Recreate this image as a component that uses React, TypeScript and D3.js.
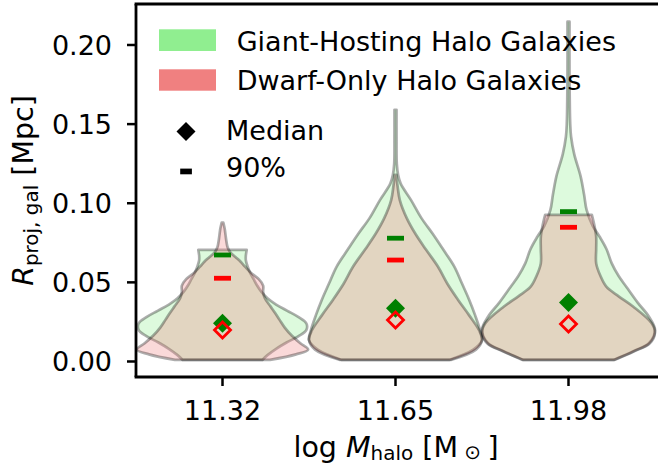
import React from 'react';
import * as d3 from 'd3';

// ---------- data ----------
const categories = ['11.32', '11.65', '11.98'];
const positions = [0, 1, 2];
const yTicks = [0, 0.05, 0.1, 0.15, 0.2];

// violin profiles: [R_proj (Mpc), relative half-width (0..1)]
const giantV1 = [
  [0.0705, 0.28], [0.067, 0.27], [0.064, 0.27], [0.06, 0.29], [0.056, 0.32], [0.052, 0.36],
  [0.048, 0.4], [0.044, 0.45], [0.04, 0.52], [0.036, 0.62], [0.032, 0.75], [0.028, 0.88],
  [0.024, 0.97], [0.02, 0.97], [0.016, 0.88], [0.012, 0.74], [0.008, 0.62], [0.004, 0.52], [0.001, 0.46],
];
const giantV2 = [
  [0.159, 0.012], [0.14, 0.012], [0.125, 0.015], [0.118, 0.03], [0.1124, 0.06], [0.102, 0.18],
  [0.0906, 0.3], [0.0807, 0.43], [0.0709, 0.55], [0.06, 0.68], [0.0491, 0.77], [0.0392, 0.85],
  [0.0293, 0.92], [0.0194, 0.98], [0.0135, 1.0], [0.0075, 0.9], [0.001, 0.62],
];
const giantV3 = [
  [0.2147, 0.012], [0.18, 0.012], [0.15, 0.02], [0.142, 0.03], [0.131, 0.066], [0.117, 0.14],
  [0.1055, 0.18], [0.0956, 0.21], [0.0857, 0.28], [0.0788, 0.36], [0.0709, 0.44], [0.062, 0.5],
  [0.054, 0.58], [0.0471, 0.67], [0.0372, 0.8], [0.0283, 0.93], [0.0199, 1.0], [0.0115, 0.93],
  [0.0065, 0.75], [0.001, 0.52],
];
const dwarfV1 = [
  [0.0877, 0.01], [0.084, 0.025], [0.08, 0.035], [0.076, 0.045], [0.072, 0.06], [0.069, 0.09],
  [0.066, 0.15], [0.063, 0.21], [0.06, 0.26], [0.056, 0.33], [0.052, 0.42], [0.048, 0.47],
  [0.044, 0.47], [0.04, 0.49], [0.0352, 0.55], [0.0313, 0.6], [0.0263, 0.66], [0.0214, 0.72],
  [0.0164, 0.8], [0.0115, 0.9], [0.0075, 0.99], [0.0045, 0.85], [0.001, 0.55],
];
const dwarfV2 = [
  [0.118, 0.01], [0.1104, 0.025], [0.102, 0.05], [0.0906, 0.13], [0.0807, 0.23], [0.0709, 0.35],
  [0.06, 0.49], [0.0491, 0.6], [0.0392, 0.72], [0.0293, 0.85], [0.0194, 0.97], [0.0135, 1.0],
  [0.0075, 0.93], [0.001, 0.64],
];
const dwarfV3 = [
  [0.0926, 0.27], [0.0857, 0.3], [0.0788, 0.32], [0.0709, 0.32], [0.062, 0.32], [0.054, 0.37],
  [0.0471, 0.44], [0.0412, 0.58], [0.0346, 0.75], [0.0243, 0.96], [0.0184, 1.0], [0.0115, 0.94],
  [0.0065, 0.76], [0.001, 0.53],
];
const giantProfiles = [giantV1, giantV2, giantV3];
const dwarfProfiles = [dwarfV1, dwarfV2, dwarfV3];

const giantMedian = [0.0241, 0.0336, 0.0372];
const dwarfMedian = [0.0199, 0.0262, 0.0237];
const giantP90 = [0.0673, 0.0779, 0.0947];
const dwarfP90 = [0.0526, 0.0641, 0.0848];

const legendLabels = ['Giant-Hosting Halo Galaxies', 'Dwarf-Only Halo Galaxies'];
const markerLabels = ['Median', '90%'];

// ---------- styles ----------
const W = 658;
const H = 467;
const FONT = 'DejaVu Sans, sans-serif';
const FS = 27;
const LFS = 28.5;

const diamond = (cx: number, cy: number, r: number) =>
  `M${cx},${cy - r}L${cx + r},${cy}L${cx},${cy + r}L${cx - r},${cy}Z`;

export default function App() {
  const left = 136, top = 4, bottom = 377;
  const x = d3.scaleLinear().domain([-0.5, 2.5]).range([left, 655]);
  const y = d3.scaleLinear().domain([-0.0098, 0.2259]).range([bottom, top]);
  const hw = (x(1) - x(0)) / 2;

  const areaFor = (i: number) =>
    d3
      .area<number[]>()
      .y((d) => y(d[0]))
      .x0((d) => x(positions[i]) - d[1] * hw)
      .x1((d) => x(positions[i]) + d[1] * hw)
      .curve(d3.curveCatmullRom);

  const edge = { stroke: '#000', strokeOpacity: 0.32, strokeWidth: 2.7, strokeLinejoin: 'round' as const };

  return (
    <svg
      width={W}
      height={H}
      style={{ position: 'absolute', left: 0, top: 0, display: 'block', background: '#fff' }}
      fontFamily={FONT}
    >
      <rect x={0} y={0} width={W} height={H} fill="#fff" />
      {/* violins: giant (green) first, dwarf (red) on top */}
      {giantProfiles.map((p, i) => (
        <path key={'g' + i} d={areaFor(i)(p) || ''} fill="#90EE90" fillOpacity={0.3} {...edge} />
      ))}
      {dwarfProfiles.map((p, i) => (
        <path key={'d' + i} d={areaFor(i)(p) || ''} fill="#F08080" fillOpacity={0.3} {...edge} />
      ))}

      {/* 90% markers */}
      {giantP90.map((v, i) => (
        <rect key={'g90' + i} x={x(positions[i]) - 8.5} y={y(v) - 2.4} width={17} height={4.8} fill="#008000" />
      ))}
      {dwarfP90.map((v, i) => (
        <rect key={'d90' + i} x={x(positions[i]) - 8.5} y={y(v) - 2.4} width={17} height={4.8} fill="#ff0000" />
      ))}
      {/* medians */}
      {giantMedian.map((v, i) => (
        <path key={'gm' + i} d={diamond(x(positions[i]), y(v), 9.5)} fill="#008000" />
      ))}
      {dwarfMedian.map((v, i) => (
        <path key={'dm' + i} d={diamond(x(positions[i]), y(v), 8)} fill="none" stroke="#ff0000" strokeWidth={2.8} />
      ))}

      {/* frame */}
      <line x1={left} x2={left} y1={top} y2={bottom} stroke="#000" strokeWidth={2.8} />
      <line x1={left - 1.4} x2={W + 5} y1={top} y2={top} stroke="#000" strokeWidth={2.8} />
      <line x1={left - 1.4} x2={W + 5} y1={bottom} y2={bottom} stroke="#000" strokeWidth={2.8} />

      {/* y ticks */}
      {yTicks.map((t) => (
        <g key={'yt' + t}>
          <line x1={left - 9} x2={left} y1={y(t)} y2={y(t)} stroke="#000" strokeWidth={2.5} />
          <text x={112} y={y(t)} dy="0.36em" textAnchor="end" fontSize={FS} fill="#000">
            {d3.format('.2f')(t)}
          </text>
        </g>
      ))}
      {/* x ticks */}
      {categories.map((c, i) => (
        <g key={'xt' + c}>
          <line x1={x(positions[i])} x2={x(positions[i])} y1={bottom} y2={bottom + 9} stroke="#000" strokeWidth={2.5} />
          <text x={x(positions[i])} y={420} textAnchor="middle" fontSize={FS} fill="#000">
            {c}
          </text>
        </g>
      ))}

      {/* axis labels */}
      <text transform={`translate(33,${(top + bottom) / 2}) rotate(-90)`} textAnchor="middle" fontSize={LFS} fill="#000">
        <tspan fontStyle="italic">R</tspan>
        <tspan fontSize={LFS * 0.7} dy={5}>proj, gal</tspan>
        <tspan dy={-5}> [Mpc]</tspan>
      </text>
      <text x={396} y={457} textAnchor="middle" fontSize={LFS} fill="#000">
        <tspan>log </tspan>
        <tspan fontStyle="italic">M</tspan>
        <tspan fontSize={LFS * 0.7} dy={3}>halo</tspan>
        <tspan dy={-3}> [M</tspan>
        <tspan fontSize={LFS * 0.7} dy={2}> ⊙ </tspan>
        <tspan dy={-2}>]</tspan>
      </text>

      {/* legend */}
      <rect x={159} y={29.3} width={57} height={21.7} fill="#90EE90" />
      <rect x={159} y={69.3} width={57} height={21.4} fill="#F08080" />
      <text x={236.7} y={50.7} fontSize={FS} fill="#000">{legendLabels[0]}</text>
      <text x={236.7} y={90.2} fontSize={FS} fill="#000">{legendLabels[1]}</text>
      <path d={diamond(186, 131.5, 9.5)} fill="#000" />
      <rect x={180.2} y={168.6} width={11.7} height={5.7} fill="#000" />
      <text x={226} y={140} fontSize={FS} fill="#000">{markerLabels[0]}</text>
      <text x={226} y={176.5} fontSize={FS} fill="#000">{markerLabels[1]}</text>
    </svg>
  );
}
